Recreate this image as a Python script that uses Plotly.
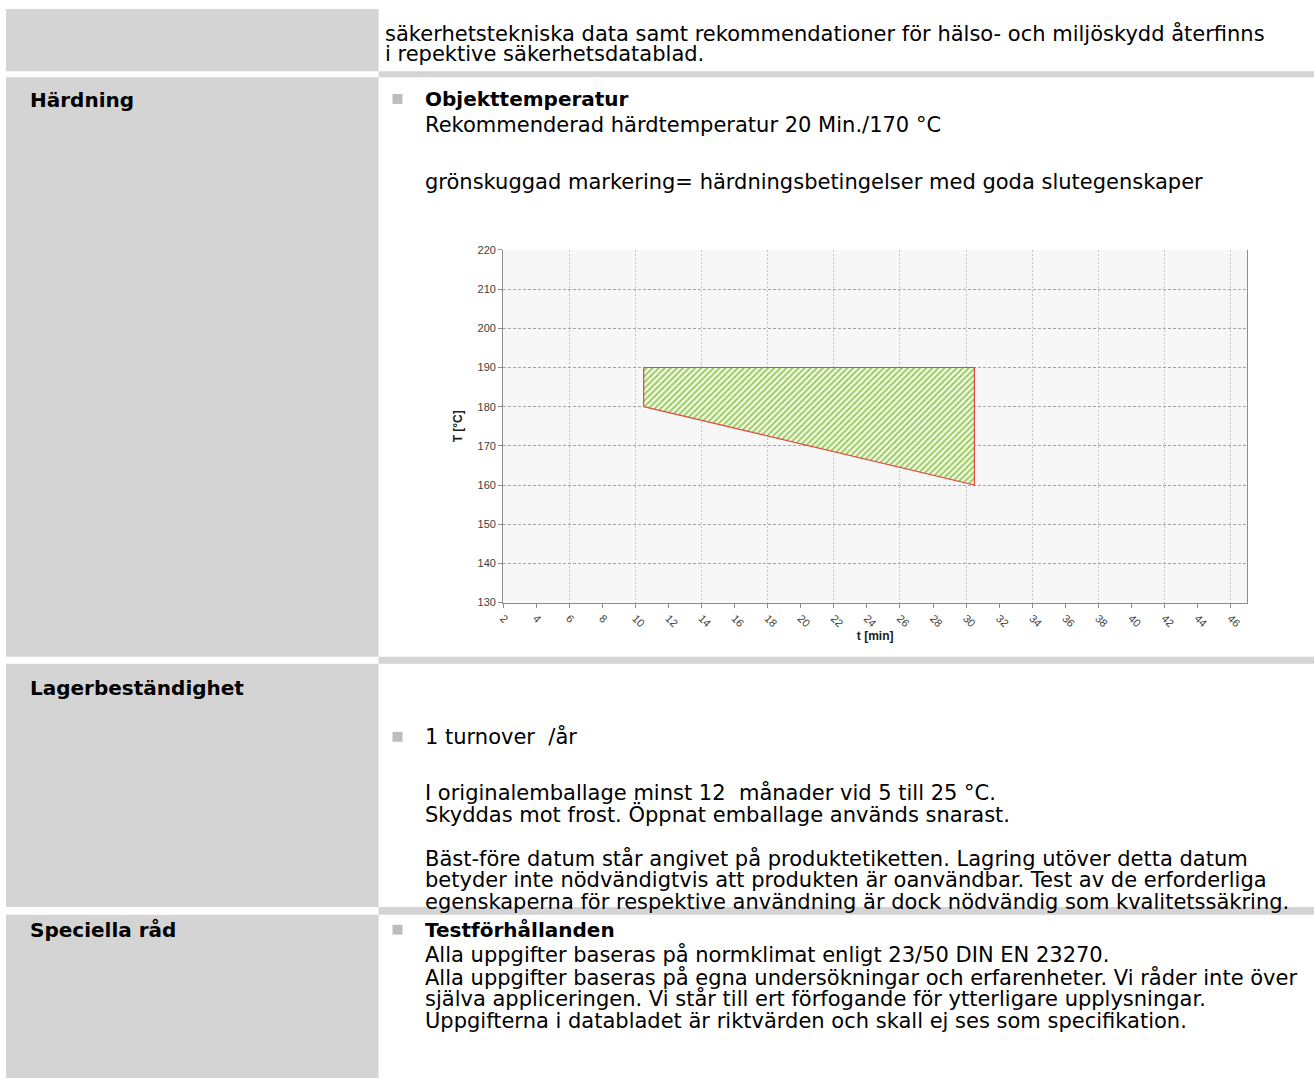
import plotly.graph_objects as go

W, H = 1314, 1084

# ---------------- data ----------------
t_min = [10.5, 10.5, 30.5, 30.5, 10.5]          # polygon corners, t [min]
T_c = [180, 190, 190, 160, 180]                 # polygon corners, T [°C]
x_tick_vals = list(range(2, 47, 2))
x_range = [2, 47]
y_range = [130, 220]

left_labels = ["Härdning", "Lagerbeständighet", "Speciella råd"]
top_lines = [
    "säkerhetstekniska data samt rekommendationer för hälso- och miljöskydd återfinns",
    "i repektive säkerhetsdatablad.",
]
hard_lines = [
    ("Objekttemperatur", True),
    ("Rekommenderad härdtemperatur 20 Min./170 °C", False),
    ("grönskuggad markering= härdningsbetingelser med goda slutegenskaper", False),
]
lager_lines = [
    ("1 turnover  /år", False),
    ("I originalemballage minst 12  månader vid 5 till 25 °C.", False),
    ("Skyddas mot frost. Öppnat emballage används snarast.", False),
    ("Bäst-före datum står angivet på produktetiketten. Lagring utöver detta datum", False),
    ("betyder inte nödvändigtvis att produkten är oanvändbar. Test av de erforderliga", False),
    ("egenskaperna för respektive användning är dock nödvändig som kvalitetssäkring.", False),
]
spec_lines = [
    ("Testförhållanden", True),
    ("Alla uppgifter baseras på normklimat enligt 23/50 DIN EN 23270.", False),
    ("Alla uppgifter baseras på egna undersökningar och erfarenheter. Vi råder inte över", False),
    ("själva appliceringen. Vi står till ert förfogande för ytterligare upplysningar.", False),
    ("Uppgifterna i databladet är riktvärden och skall ej ses som specifikation.", False),
]

# ---------------- layout helpers (pixel -> paper) ----------------
def px(x):
    return x / W

def py(y):
    return 1 - y / H

GRAY = "#d4d4d4"
BULLET = "#bdbdbd"
FONT = "DejaVu Sans, Liberation Sans, Arial, sans-serif"
CFONT = "Liberation Sans, Arial, sans-serif"
FS = 21
FSB = 20

fig = go.Figure()

fig.add_trace(go.Scatter(
    x=t_min, y=T_c, mode="lines", fill="toself",
    line=dict(color="#e5483d", width=1.2),
    fillpattern=dict(shape="/", fgcolor="#97cb5a", bgcolor="#f3f9e9",
                     size=4.3, solidity=0.45, fillmode="replace"),
    hoverinfo="skip", showlegend=False,
))
# invisible helper trace carrying the labelled tick axis
fig.add_trace(go.Scatter(
    x=x_tick_vals, y=[y_range[0]] * len(x_tick_vals), xaxis="x2",
    mode="markers", marker=dict(opacity=0), hoverinfo="skip", showlegend=False,
))

shapes = []
def rect(x0, y0, x1, y1, color):
    shapes.append(dict(type="rect", xref="paper", yref="paper",
                       x0=px(x0), x1=px(x1), y0=py(y1), y1=py(y0),
                       fillcolor=color, line=dict(width=0), layer="below"))

# left gray column cells
for y0, y1 in [(3, 66), (72, 658), (665, 911), (919, 1084)]:
    rect(1, y0, 375, y1, GRAY)
# right separators
for y0, y1 in [(66, 72), (658, 665), (911, 919)]:
    rect(375, y0, 1314, y1, GRAY)

annotations = []
def text(x, y, s, bold=False, size=FS):
    annotations.append(dict(xref="paper", yref="paper", x=px(x), y=py(y),
                            text=s, showarrow=False, xanchor="left", yanchor="middle",
                            borderpad=0,
                            font=dict(family=FONT, size=size, color="#000000",
                                      weight="bold" if bold else "normal")))

def bullet(y):
    rect(389, y - 5, 399, y + 5, BULLET)

# left labels
for lab, y in zip(left_labels, [95, 690, 934]):
    text(24, y, lab, bold=True, size=FSB)

# top paragraph
for s, y in zip(top_lines, [28, 49]):
    text(380, y, s)

# Härdning section
bullet(94)
for (s, b), y in zip(hard_lines, [94, 120, 178]):
    text(421, y, s, bold=b, size=FSB if b else FS)

# Lagerbeständighet section
bullet(739)
for (s, b), y in zip(lager_lines, [739, 795, 818, 862, 884, 906]):
    text(421, y, s, bold=b)

# Speciella råd section
bullet(934)
for (s, b), y in zip(spec_lines, [934, 959, 982, 1004, 1026]):
    text(421, y, s, bold=b, size=FSB if b else FS)

x_dom = [px(500), px(1247)]
y_dom = [py(603.3), py(246.7)]
AX = "#8c8c8c"

fig.update_layout(
    width=W, height=H, autosize=False,
    margin=dict(l=0, r=0, t=0, b=0),
    paper_bgcolor="white", plot_bgcolor="#f7f7f7",
    font=dict(family=FONT),
    shapes=shapes, annotations=annotations,
    showlegend=False,
    xaxis=dict(domain=x_dom, range=x_range, tick0=2, dtick=4,
               showgrid=True, gridcolor="#c4c4c4", griddash="2px,2px", gridwidth=1,
               showticklabels=False, ticks="", zeroline=False,
               showline=True, linecolor=AX, linewidth=1, anchor="y"),
    xaxis2=dict(domain=x_dom, range=x_range, overlaying="x", anchor="y", side="bottom",
                tick0=2, dtick=2, ticks="outside", ticklen=4, tickcolor=AX,
                tickangle=45, tickfont=dict(family=CFONT, size=11, color="#404040"),
                showgrid=False, zeroline=False, showline=False,
                title=dict(text="<b>t [min]</b>", font=dict(family=CFONT, size=12, color="#202020"),
                           standoff=2)),
    yaxis=dict(domain=y_dom, range=y_range, tick0=130, dtick=10,
               showgrid=True, gridcolor="#a4a4a4", griddash="3px,2px", gridwidth=1,
               ticks="outside", ticklen=4, tickcolor=AX,
               tickfont=dict(family=CFONT, size=11, color="#404040"),
               showline=True, linecolor=AX, linewidth=1, mirror=True, zeroline=False,
               title=dict(text="<b>T [°C]</b>", font=dict(family=CFONT, size=12, color="#202020"),
                          standoff=12)),
)

fig.write_html(
    "out.html",
    config={"displayModeBar": False},
    post_script="document.documentElement.style.margin='0';document.body.style.margin='0';"
                "document.body.style.padding='0';document.body.style.overflow='hidden';",
)
